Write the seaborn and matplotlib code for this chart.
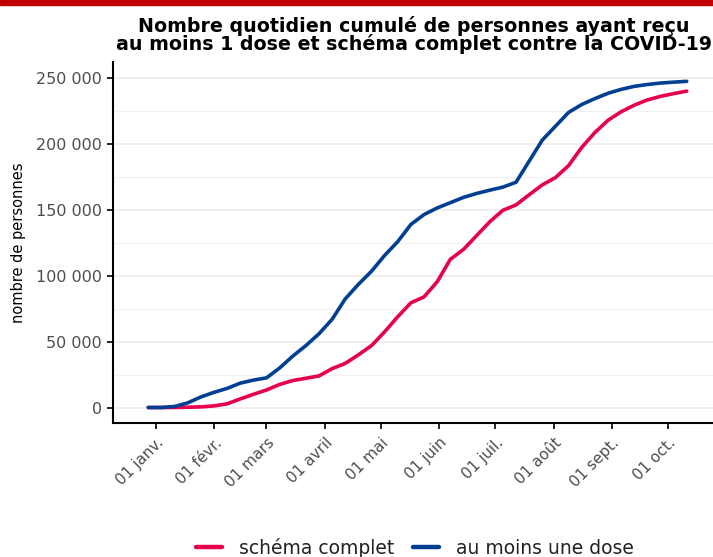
import pandas as pd
import numpy as np
import matplotlib
matplotlib.use("Agg")
import matplotlib.pyplot as plt
import matplotlib.ticker as mticker
import seaborn as sns

# Données hebdomadaires
dates = pd.date_range("2020-12-28", periods=42, freq="7D")
au_moins_une_dose = [0, 0, 800, 3500, 8000, 11500, 14500, 18500, 20800, 22500,
                     30000, 39000, 47000, 56000, 67000, 82500, 93500, 103500, 115500, 126000,
                     139000, 146500, 151500, 155500, 159500, 162500, 165000, 167300, 171000, 187000,
                     203000, 213500, 224000, 230000, 234500, 238500, 241500, 243800, 245200, 246300,
                     247000, 247600]
schema_complet = [0, 0, 0, 200, 500, 1200, 2800, 6500, 10000, 13300,
                  17500, 20500, 22200, 24000, 29500, 33500, 40000, 47000, 57500, 69000,
                  79500, 84000, 95500, 112500, 120000, 130500, 141000, 149700, 153800, 161500,
                  169000, 174500, 183600, 197400, 208700, 218000, 224500, 229500, 233500, 236200,
                  238300, 240200]
series = ["schéma complet", "au moins une dose"]
couleurs = ["#e6004d", "#003f91"]
mois = ["janv.", "févr.", "mars", "avril", "mai", "juin", "juil.", "août", "sept.", "oct."]

df = pd.DataFrame({
    "date": list(dates) * 2,
    "valeur": schema_complet + au_moins_une_dose,
    "serie": [series[0]] * len(dates) + [series[1]] * len(dates),
})

sns.set_style("white")
plt.rcParams["font.family"] = ["DejaVu Sans"]

fig = plt.figure(figsize=(7.13, 5.57), dpi=100)
ax = fig.add_axes([0.158, 0.24, 0.842, 0.648])

sns.lineplot(data=df, x="date", y="valeur", hue="serie", hue_order=series,
             palette=couleurs, linewidth=2.6, ax=ax)

ax.set_ylim(-12000, 262000)
ax.set_xlim(pd.Timestamp("2020-12-09"), pd.Timestamp("2021-10-25"))
ax.yaxis.set_major_locator(mticker.MultipleLocator(50000))
ax.yaxis.set_minor_locator(mticker.MultipleLocator(25000))
ax.yaxis.set_major_formatter(mticker.FuncFormatter(lambda v, p: f"{int(v):,}".replace(",", " ")))
ax.grid(axis="y", which="major", color="#ebebeb", linewidth=1.1)
ax.grid(axis="y", which="minor", color="#f2f2f2", linewidth=0.9)
ax.grid(axis="x", visible=False)

ticks = pd.date_range("2021-01-01", periods=10, freq="MS")
ax.set_xticks(ticks)
ax.set_xticklabels([f"01 {m}" for m in mois], rotation=45, ha="right", va="top",
                   rotation_mode="anchor", color="#4d4d4d", fontsize=11)
ax.tick_params(axis="y", labelsize=11.5, labelcolor="#4d4d4d")
ax.tick_params(axis="both", which="major", direction="out", length=4, width=1.2,
               color="black", left=True, bottom=True)
ax.tick_params(axis="x", pad=4.5)
ax.tick_params(axis="y", which="minor", left=False)

for s in ["top", "right"]:
    ax.spines[s].set_visible(False)
for s in ["left", "bottom"]:
    ax.spines[s].set_color("black")
    ax.spines[s].set_linewidth(1.5)

ax.set_xlabel("")
ax.set_ylabel("nombre de personnes", fontsize=10.5, color="black")
ax.yaxis.set_label_coords(-0.145, 0.5)

fig.text(0.58, 0.937, "Nombre quotidien cumulé de personnes ayant reçu\n"
         "au moins 1 dose et schéma complet contre la COVID-19",
         ha="center", va="center", fontsize=13.7, fontweight="bold",
         linespacing=0.92, color="black")

# bandeau rouge en haut
fig.patches.append(plt.Rectangle((0, 0.991), 1, 0.009, transform=fig.transFigure,
                                 color="#c00000", zorder=10))

ax.legend_.remove()
handles = [plt.Line2D([], [], color=c, linewidth=3.2) for c in couleurs]
fig.legend(handles, series, loc="center", bbox_to_anchor=(0.582, 0.017), ncol=2,
           frameon=False, fontsize=13.5, handlelength=1.4, columnspacing=1.0,
           handletextpad=0.9, labelcolor="#222222")

fig.savefig("out.png", dpi=100)
